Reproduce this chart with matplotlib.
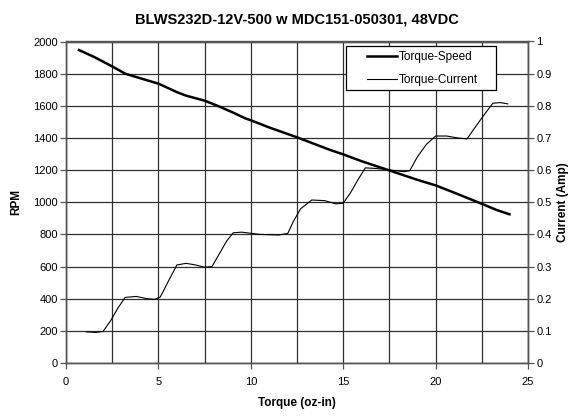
import numpy as np
import matplotlib.pyplot as plt
from matplotlib.patches import Rectangle
from matplotlib.ticker import MultipleLocator

plt.rcParams['font.family'] = ['Liberation Sans', 'DejaVu Sans']

title = "BLWS232D-12V-500 w MDC151-050301, 48VDC"

# Torque-Speed (left axis)
speed_torque = [0.7, 1.5, 2.5, 3.2, 4.0, 5.0, 6.0, 6.5, 7.5, 8.2, 9.0, 9.7,
                10.0, 11.0, 12.5, 14.3, 15.0, 16.0, 17.5, 19.0, 20.0, 21.0,
                22.4, 23.3, 24.0]
speed_rpm = [1947, 1905, 1845, 1800, 1772, 1738, 1685, 1663, 1632, 1600, 1560,
             1522, 1510, 1465, 1404, 1325, 1298, 1255, 1198, 1140, 1105, 1060,
             995, 952, 925]

# Torque-Current (right axis)
cur_torque = [1.1, 1.6, 2.0, 2.4, 2.8, 3.2, 3.8, 4.4, 4.8, 5.1, 5.5, 6.0, 6.5,
              7.0, 7.5, 7.9, 8.3, 8.7, 9.05, 9.5, 10.5, 11.5, 12.0, 12.3,
              12.7, 13.3, 14.0, 14.6, 15.0, 15.4, 15.8, 16.2, 16.8, 17.6,
              18.3, 18.6, 19.0, 19.5, 20.0, 20.6, 21.2, 21.7, 22.1, 22.6,
              23.1, 23.5, 23.9]
cur_amp = [0.097, 0.095, 0.098, 0.13, 0.17, 0.204, 0.207, 0.20, 0.198, 0.205,
           0.25, 0.305, 0.31, 0.305, 0.298, 0.30, 0.34, 0.38, 0.405, 0.407,
           0.40, 0.398, 0.403, 0.44, 0.48, 0.507, 0.505, 0.495, 0.497, 0.53,
           0.57, 0.607, 0.605, 0.600, 0.595, 0.598, 0.64, 0.68, 0.706, 0.706,
           0.700, 0.697, 0.73, 0.77, 0.808, 0.810, 0.806]

fig = plt.figure(figsize=(5.71, 4.16), dpi=100)
ax = fig.add_axes([66 / 571, 53 / 416, 462 / 571, 321.5 / 416])
ax2 = ax.twinx()

gridc = '#303030'
l1, = ax.plot(speed_torque, speed_rpm, color='black', lw=1.8,
              label='Torque-Speed', zorder=3)
l2, = ax2.plot(cur_torque, cur_amp, color='black', lw=0.8,
               label='Torque-Current')

ax.set_xlim(0, 25)
ax.set_ylim(0, 2000)
ax2.set_ylim(0, 1)
ax.xaxis.set_major_locator(MultipleLocator(5))
ax.xaxis.set_minor_locator(MultipleLocator(2.5))
ax.yaxis.set_major_locator(MultipleLocator(200))
ax2.set_yticks(np.arange(0, 1.01, 0.1))
ax2.set_yticklabels(['0', '0.1', '0.2', '0.3', '0.4', '0.5', '0.6', '0.7',
                     '0.8', '0.9', '1'])

ax.grid(which='both', axis='x', color=gridc, lw=0.9)
ax.grid(which='major', axis='y', color=gridc, lw=0.9)
ax.set_axisbelow(True)

for a in (ax, ax2):
    for s in a.spines.values():
        s.set_color('#555555')
        s.set_linewidth(1.0)
    a.tick_params(which='major', length=4, width=0.9, color='#555555',
                  labelsize=8, pad=2)
ax.tick_params(which='minor', axis='x', length=0)
ax.tick_params(axis='x', pad=6)

ax.set_xlabel('Torque (oz-in)', fontsize=8.5, fontweight='bold', labelpad=7)
ax.set_ylabel('RPM', fontsize=8.5, fontweight='bold', labelpad=8)
ax2.set_ylabel('Current (Amp)', fontsize=8.5, fontweight='bold', labelpad=4)
ax.set_title(title, fontsize=10.5, fontweight='bold', pad=13)

# legend box drawn separately so it can be wider than its entries
box = Rectangle((0.606, 0.849), 0.325, 0.138, transform=ax2.transAxes,
                facecolor='white', edgecolor='black', lw=0.9, zorder=4)
ax2.add_patch(box)
leg = ax2.legend([l1, l2], ['Torque-Speed', 'Torque-Current'],
                 loc='upper left', bbox_to_anchor=(0.651, 0.970),
                 fontsize=8.5, frameon=False, handlelength=2.55,
                 handletextpad=0.2, labelspacing=0.9, borderpad=0,
                 borderaxespad=0)
leg.set_zorder(5)

fig.savefig('out.png', dpi=100)
